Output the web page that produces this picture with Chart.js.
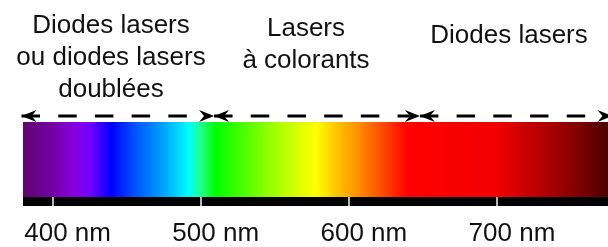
<!DOCTYPE html>
<html>
<head>
<meta charset="utf-8">
<script src="https://cdn.jsdelivr.net/npm/chart.js@4.4.0/dist/chart.umd.min.js"></script>
<style>
html, body { margin: 0; padding: 0; background: #fff; }
canvas { display: block; }
</style>
</head>
<body>
<canvas id="spectrumChart" width="608" height="247"></canvas>
<script>
// colours, by wavelength (nm)
let stopWavelengths = [380, 400, 415, 425, 440, 455, 470, 482, 492, 500, 510, 530, 550, 570, 578, 590, 600, 615, 640, 700, 720, 750, 775];
let stopColors = ['#5e066c', '#7400a4', '#8600e0', '#7400ff', '#0000ff', '#0050ff', '#008eff', '#00c6ff', '#00ffff', '#20ff90', '#00ff00', '#50ff00', '#a2ff00', '#e6ff00', '#ffff00', '#ffcc00', '#ffa800', '#ff6c00', '#ff0000', '#f20000', '#c80000', '#8c0000', '#4c0000'];
let spectrumRange = [380, 775];
let tickValues = [400, 500, 600, 700];

// laser families and the wavelength ranges they cover
let rangeStart = [379, 509, 648];
let rangeEnd = [509, 648, 778];
let rangeLabels = [['Diodes lasers', 'ou diodes lasers', 'doublées'], ['Lasers', 'à colorants'], ['Diodes lasers']];

const FONT = '"Liberation Sans", Arial, sans-serif';

function spectrumGradient(context) {
    const chart = context.chart;
    if (!chart.chartArea) return null;
    const x = chart.scales.x;
    const x0 = x.getPixelForValue(spectrumRange[0]);
    const x1 = x.getPixelForValue(spectrumRange[1]);
    const g = chart.ctx.createLinearGradient(x0, 0, x1, 0);
    stopWavelengths.forEach((w, i) => {
        g.addColorStop((x.getPixelForValue(w) - x0) / (x1 - x0), stopColors[i]);
    });
    return g;
}

function arrowHead(ctx, tipX, y, dir) {
    ctx.beginPath();
    ctx.moveTo(tipX, y);
    ctx.lineTo(tipX - dir * 15, y - 6);
    ctx.lineTo(tipX - dir * 10, y);
    ctx.lineTo(tipX - dir * 15, y + 6);
    ctx.closePath();
    ctx.fill();
}

const decor = {
    id: 'decor',
    afterDatasetsDraw(chart) {
        const {ctx, chartArea, scales} = chart;
        const x = scales.x;
        ctx.save();

        // black strip with the white tick marks
        ctx.fillStyle = '#000';
        ctx.fillRect(chartArea.left, chartArea.bottom - 9, chartArea.right - chartArea.left, 9);
        ctx.strokeStyle = '#f2f2f2';
        ctx.lineWidth = 1.5;
        tickValues.forEach(v => {
            const px = Math.round(x.getPixelForValue(v));
            ctx.beginPath();
            ctx.moveTo(px, chartArea.bottom - 9);
            ctx.lineTo(px, chartArea.bottom);
            ctx.stroke();
        });

        // dashed double arrows
        const ay = chartArea.top - 6;
        ctx.strokeStyle = '#000';
        ctx.fillStyle = '#000';
        ctx.lineWidth = 3;
        rangeStart.forEach((s, i) => {
            const a = x.getPixelForValue(s);
            const b = x.getPixelForValue(rangeEnd[i]);
            ctx.setLineDash([18.5, 18.2]);
            ctx.beginPath();
            ctx.moveTo(a, ay);
            ctx.lineTo(b - 10, ay);
            ctx.stroke();
            ctx.setLineDash([]);
            arrowHead(ctx, a, ay, -1);
            arrowHead(ctx, b, ay, 1);
        });

        // labels above the arrows
        const textX = [111, 306, 509];
        const textY = [33, 36, 43];
        ctx.font = '26px ' + FONT;
        ctx.textAlign = 'center';
        ctx.textBaseline = 'alphabetic';
        ctx.fillStyle = '#111';
        rangeLabels.forEach((lines, i) => {
            lines.forEach((t, j) => {
                ctx.fillText(t, textX[i], textY[i] + j * 32);
            });
        });
        ctx.restore();
    }
};

new Chart(document.querySelector('#spectrumChart'), {
    type: 'line',
    data: {
        datasets: [{
            label: 'Spectre',
            data: [{x: spectrumRange[0], y: 1}, {x: spectrumRange[1], y: 1}],
            fill: 'start',
            backgroundColor: spectrumGradient,
            borderWidth: 0,
            pointRadius: 0
        }]
    },
    options: {
        responsive: false,
        animation: false,
        devicePixelRatio: 1,
        layout: {padding: {top: 122, left: 23, right: 0, bottom: 0}},
        plugins: {legend: {display: false}, tooltip: {enabled: false}},
        scales: {
            x: {
                type: 'linear',
                min: spectrumRange[0],
                max: spectrumRange[1],
                grid: {display: false, drawTicks: false},
                border: {display: false},
                afterBuildTicks: s => { s.ticks = tickValues.map(v => ({value: v})); },
                afterFit: s => {
                    s.height = 41;
                    s.paddingLeft = 0;
                    s.paddingRight = 0;
                },
                ticks: {
                    autoSkip: false,
                    maxRotation: 0,
                    padding: 12,
                    labelOffset: 15,
                    color: '#111',
                    font: {family: FONT, size: 26},
                    callback: v => v + ' nm'
                }
            },
            y: {min: 0, max: 1, display: false}
        }
    },
    plugins: [decor]
});
</script>
</body>
</html>
